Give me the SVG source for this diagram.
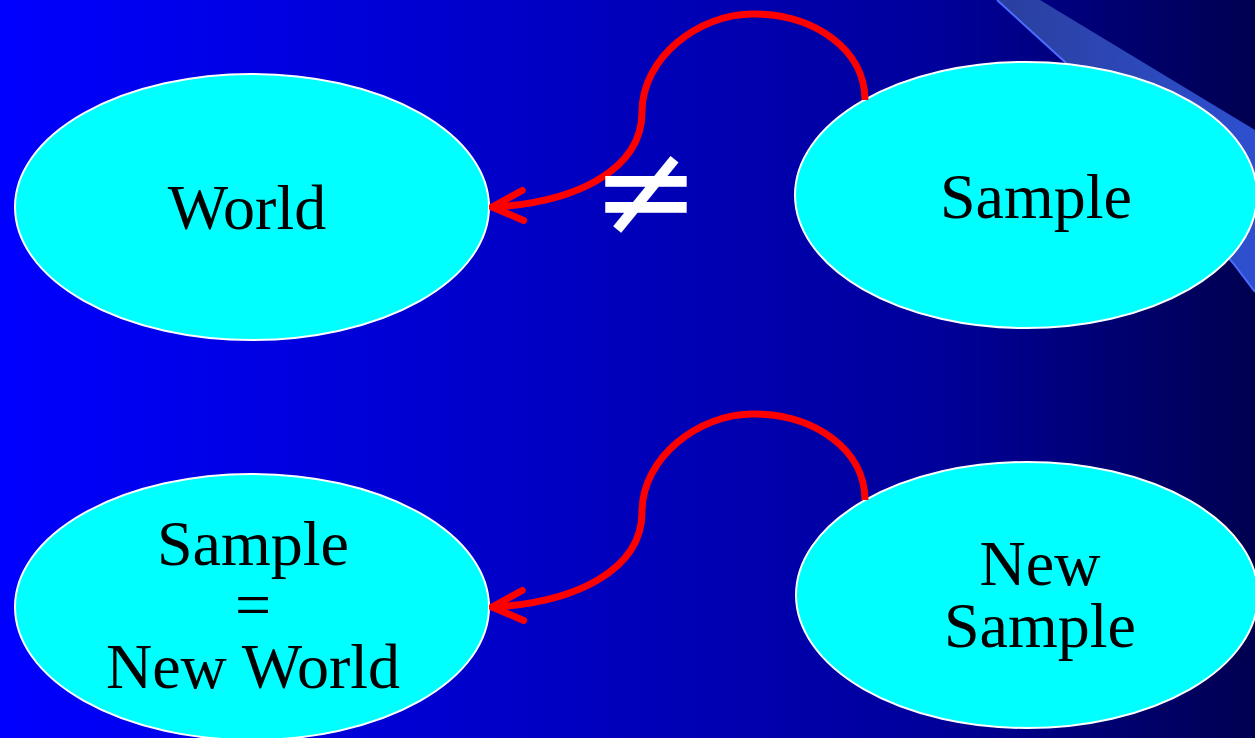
<svg xmlns="http://www.w3.org/2000/svg" width="1255" height="738" viewBox="0 0 1255 738">
  <defs>
    <linearGradient id="bg" x1="0" y1="0" x2="1" y2="0">
      <stop offset="0" stop-color="#0000ff"/>
      <stop offset="0.4" stop-color="#0000c8"/>
      <stop offset="0.75" stop-color="#00009a"/>
      <stop offset="1" stop-color="#000050"/>
    </linearGradient>
    <linearGradient id="band" x1="0" y1="0" x2="1" y2="0">
      <stop offset="0" stop-color="#2a3f9e"/>
      <stop offset="1" stop-color="#2e50d0"/>
    </linearGradient>
    <marker id="chev" markerUnits="userSpaceOnUse" markerWidth="50" markerHeight="50" refX="47" refY="25" orient="auto" viewBox="0 0 50 50">
      <path d="M16,10 L47,25 L16,40" fill="none" stroke="#ff0000" stroke-width="7" stroke-linecap="round" stroke-linejoin="round"/>
    </marker>
  </defs>
  <style>
    .node ellipse { fill: #00ffff; stroke: #ffffff; stroke-width: 2; }
    .node text { font-family: "Liberation Serif", "Times New Roman", serif; font-size: 64px; fill: #000000; text-anchor: middle; }
    .conn path { fill: none; stroke: #ff0000; stroke-width: 7; stroke-linecap: butt; marker-end: url(#chev); }
  </style>
  <rect x="0" y="0" width="1255" height="738" fill="url(#bg)"/>
  <g id="decor">
    <polygon points="997,0 1040,0 1255,130 1255,292 1233,263 1065,62" fill="url(#band)"/>
    <polyline points="997,0 1065,62 1233,263 1255,292" fill="none" stroke="#4a6cff" stroke-width="2"/>
  </g>
  <g id="node-world" class="node">
    <ellipse cx="252" cy="207" rx="237" ry="133"/>
    <text x="247" y="229">World</text>
  </g>
  <g id="node-sample" class="node">
    <ellipse cx="1026" cy="195" rx="231" ry="133"/>
    <text x="1036" y="218">Sample</text>
  </g>
  <g id="node-newworld" class="node">
    <ellipse cx="252" cy="607" rx="237" ry="133"/>
    <text x="253" y="565">Sample</text>
    <text x="253" y="626">=</text>
    <text x="253" y="688">New World</text>
  </g>
  <g id="node-newsample" class="node">
    <ellipse cx="1027" cy="595" rx="231" ry="133"/>
    <text x="1040" y="585">New</text>
    <text x="1040" y="647">Sample</text>
  </g>
  <g id="connectors" class="conn">
    <path d="M865,100 C865,50 815,14 753,14 C698,14 642,58 642,112 C642,170 575,203 492,207"/>
    <path d="M865,500 C865,450 815,414 753,414 C698,414 642,458 642,512 C642,570 575,603 492,607"/>
  </g>
  <g id="neq">
    <text x="646" y="235" font-family="DejaVu Sans, sans-serif" font-size="130" fill="#ffffff" text-anchor="middle">≠</text>
  </g>
</svg>
